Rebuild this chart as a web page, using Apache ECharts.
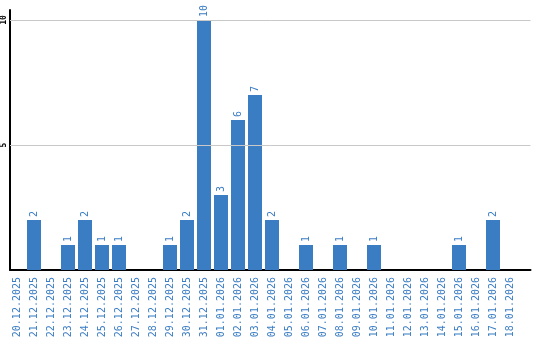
<!DOCTYPE html>
<html>
<head>
<meta charset="utf-8">
<script src="https://cdn.jsdelivr.net/npm/echarts@6/dist/echarts.min.js"></script>
<style>html,body{margin:0;padding:0;background:#fff}#c{width:540px;height:340px}</style>
</head>
<body>
<div id="c"></div>
<script>
const categories = ['20.12.2025','21.12.2025','22.12.2025','23.12.2025','24.12.2025','25.12.2025','26.12.2025','27.12.2025','28.12.2025','29.12.2025','30.12.2025','31.12.2025','01.01.2026','02.01.2026','03.01.2026','04.01.2026','05.01.2026','06.01.2026','07.01.2026','08.01.2026','09.01.2026','10.01.2026','11.01.2026','12.01.2026','13.01.2026','14.01.2026','15.01.2026','16.01.2026','17.01.2026','18.01.2026'];
const values = [0,2,0,1,2,1,1,0,0,1,2,10,3,6,7,2,0,1,0,1,0,1,0,0,0,0,1,0,2,0];
const yTicks = [5, 10];

const BLUE = '#3b7dc3';
const chart = echarts.init(document.getElementById('c'));
chart.setOption({
  animation: false,
  grid: { left: 10, right: 9.5, top: 10, bottom: 70, outerBoundsMode: 'none', containLabel: false },
  xAxis: {
    type: 'value',
    min: -7/17,
    max: (530.5 - 17) / 17,
    axisLine: { show: true, onZero: false, lineStyle: { color: '#000', width: 2 } },
    axisTick: { show: false },
    splitLine: { show: false },
    axisLabel: {
      customValues: categories.map((c, i) => i),
      formatter: v => categories[v],
      rotate: 90,
      margin: 7,
      color: BLUE,
      fontFamily: 'DejaVu Sans Mono',
      fontSize: 10
    }
  },
  yAxis: {
    type: 'value',
    min: 0,
    max: 10.4,
    axisLine: { show: true, onZero: false, lineStyle: { color: '#000', width: 2 } },
    axisTick: { show: false },
    splitLine: { show: false },
    axisLabel: {
      customValues: yTicks,
      rotate: 90,
      margin: 2,
      color: '#000',
      fontFamily: 'DejaVu Sans Mono',
      fontSize: 8,
      fontWeight: 'bold'
    }
  },
  series: [{
    type: 'bar',
    data: values.map((v, i) => [i, v]),
    barWidth: 14,
    itemStyle: { color: BLUE },
    label: {
      show: true,
      position: 'top',
      rotate: 90,
      align: 'left',
      verticalAlign: 'middle',
      distance: 3,
      color: BLUE,
      fontFamily: 'DejaVu Sans Mono',
      fontSize: 10,
      formatter: p => (p.value[1] ? String(p.value[1]) : '')
    },
    markLine: {
      silent: true,
      symbol: 'none',
      label: { show: false },
      lineStyle: { color: '#c8c8c8', type: 'solid', width: 1 },
      data: yTicks.map(t => ({ yAxis: t }))
    },
    z: 2
  }]
});
</script>
</body>
</html>
